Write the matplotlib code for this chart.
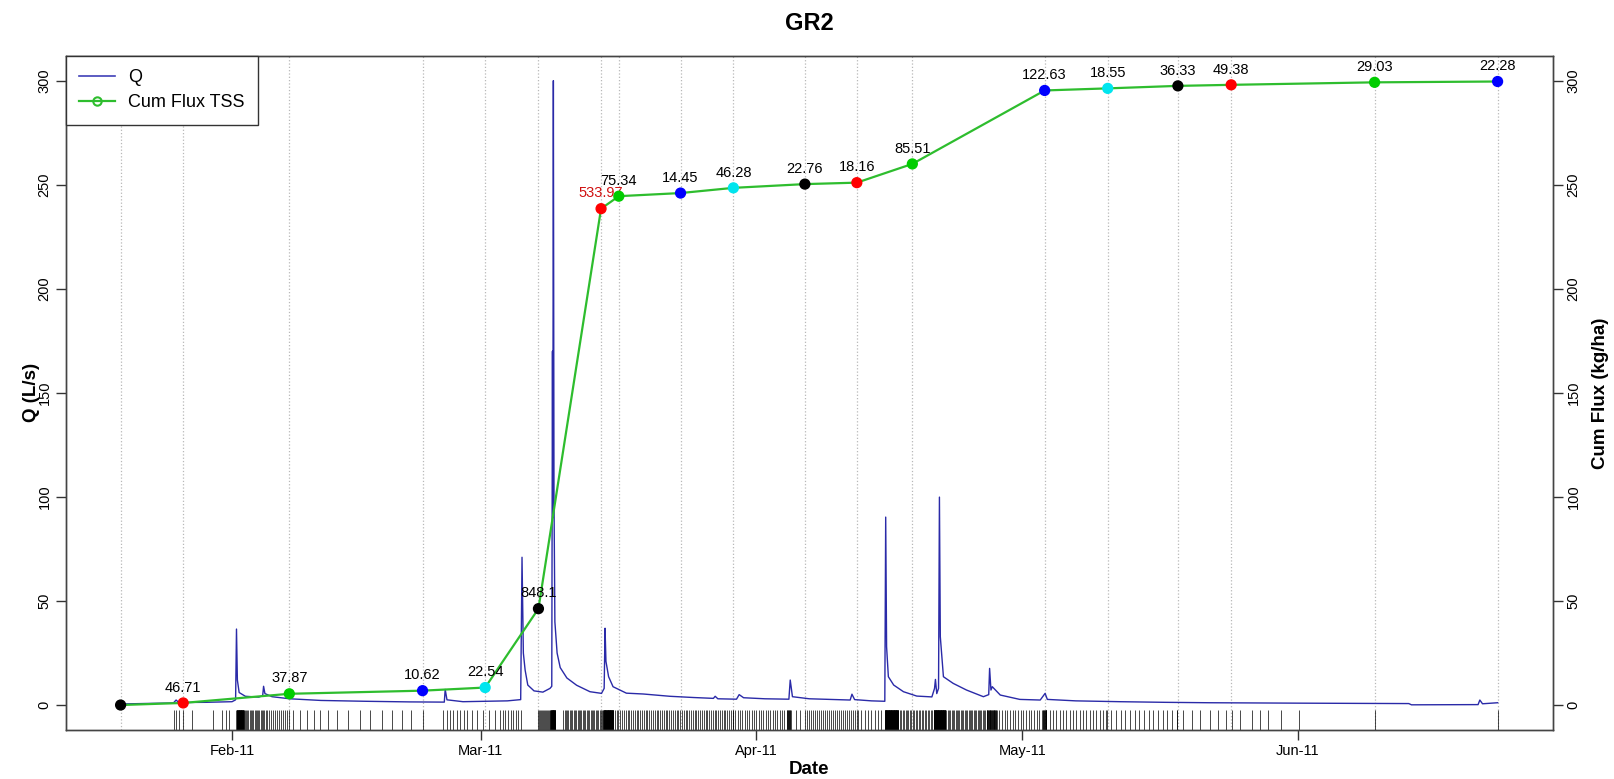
import numpy as np
import pandas as pd
import matplotlib
matplotlib.use('Agg')
import matplotlib.pyplot as plt
import matplotlib.dates as mdates
from matplotlib.lines import Line2D

plt.rcParams['font.family'] = ['Liberation Sans', 'DejaVu Sans']

base = pd.Timestamp('2011-02-01')

# sampling dates (days from 1 Feb 2011), cumulative TSS flux (kg/ha), TSS labels
samp_day = [-12.55, -5.5, 6.45, 21.45, 28.5, 34.5, 41.55, 43.55, 50.5, 56.45,
            64.5, 70.35, 76.6, 91.5, 98.6, 106.5, 112.5, 128.65, 142.5]
cum_flux = [0, 1.0, 5.4, 6.9, 8.4, 46.3, 238.5, 244.5, 246.0, 248.5,
            250.3, 251.0, 260.0, 295.3, 296.3, 297.5, 298.0, 299.2, 299.6]
tss_lab = ['', '46.71', '37.87', '10.62', '22.54', '848.1', '533.97', '75.34',
           '14.45', '46.28', '22.76', '18.16', '85.51', '122.63', '18.55',
           '36.33', '49.38', '29.03', '22.28']
palette = ['black', '#ff0000', '#00cd00', '#0000ff', '#00e5ee']

# discharge Q (L/s), days from 1 Feb 2011
q_day = [-12.55, -9, -6.6, -6.3, -6.0, -3, 0.0, 0.4, 0.5, 0.6, 0.8, 1.5, 3.0,
         3.45, 3.55, 3.7, 4.5, 6.5, 10, 15, 20, 23.9, 24.0, 24.2, 26, 28.5, 31,
         32.5, 32.65, 32.8, 33.0, 33.3, 34.0, 35.0, 35.8, 36.0, 36.08, 36.12,
         36.18, 36.25, 36.35, 36.6, 36.95, 37.7, 38.8, 40.3, 41.6, 41.9, 42.0,
         42.1, 42.4, 42.9, 44.4, 46.3, 49.3, 52, 54.2, 54.4, 54.7, 56.8, 57.1,
         57.6, 60, 62.7, 62.85, 63.1, 65, 69.6, 69.8, 70.1, 72, 73.5, 73.6,
         73.7, 73.9, 74.5, 75.6, 77.1, 78.8, 79.1, 79.2, 79.35, 79.55, 79.65,
         79.75, 80.1, 81.2, 82.7, 84.6, 85.2, 85.3, 85.45, 85.6, 86.5, 88.7,
         91.0, 91.55, 91.8, 95, 100, 105, 110, 115, 120, 126, 132.5, 132.8,
         140.3, 140.5, 140.8, 142.5]
q_val = [0.5, 0.8, 1.0, 2.4, 1.2, 1.3, 1.6, 2.5, 36.5, 12, 6, 4.2, 3.8,
         4.5, 9.0, 5.5, 4.0, 3.0, 2.2, 1.8, 1.5, 1.4, 7.5, 2.5, 1.6, 1.8, 2.0,
         2.6, 71, 25, 16.8, 9.6, 6.8, 6.2, 8, 9, 170, 90,
         300, 100, 40, 25, 18, 13, 9.5, 6.4, 5.6, 8, 36.9,
         21, 13.6, 8.8, 5.7, 5.3, 4.2, 3.6, 3.2, 4.2, 3.0, 2.8, 5.0,
         3.5, 3.0, 2.8, 12, 4.0, 3.0, 2.4, 5.2, 2.6, 2.0, 1.8, 90.3,
         28, 13.6, 9.6, 6.4, 4.3, 3.9, 8, 12.3, 5.5, 8, 99.9,
         32.8, 13.6, 10.4, 7.2, 4.0, 5, 17.6, 7.2, 8.8, 4.8, 2.7,
         2.4, 5.6, 2.7, 2.0, 1.6, 1.3, 1.1, 1.0, 0.9, 0.8, 0.7, 0.1,
         0.2, 2.4, 0.6, 1.1]

# rug: isolated marks and sampling bursts (start day, end day, step in hours)
rug_single = [-6.5, -6.3, -6.0, -5.55, -4.5, -2.2, -1.1, -0.7, -0.3,
              6.9, 7.66, 8.4, 9.2, 9.9, 10.8, 11.8, 13.1, 14.4, 15.5, 16.9,
              18.0, 19.1, 20.2, 21.5, 23.8, 24.2, 24.5, 24.9, 25.3, 25.7,
              26.1, 26.4, 27.0, 27.6, 28.3, 28.9, 29.6, 63.5, 64.0,
              106.4, 107.1, 108.1, 109.0, 110.1, 111.0, 111.9, 112.6, 113.5,
              114.8, 115.8, 116.7, 118.1, 120.1, 128.65, 142.5]
rug_burst = [(0.5, 1.3, 0.5), (1.3, 3.9, 3.3), (3.9, 6.5, 5.4),
             (30.2, 32.8, 7), (34.5, 35.9, 2.5), (35.9, 36.4, 0.5),
             (37.3, 41.8, 3.5), (41.8, 42.9, 0.5), (42.9, 56.4, 4.9),
             (56.4, 62.5, 6.3), (62.5, 63.0, 1.5), (64.5, 70.5, 5.4),
             (70.5, 73.5, 9), (73.5, 75.0, 0.5), (75.0, 79.0, 4),
             (79.0, 80.3, 0.5), (80.3, 85.0, 3.5), (85.0, 86.1, 1.2),
             (86.1, 91.3, 7.2), (91.3, 91.7, 1.2), (91.7, 98.5, 9),
             (98.5, 106.4, 12.6)]


def to_dates(days):
    return base + pd.to_timedelta(np.asarray(days, dtype=float), unit='D')


rug_days = list(rug_single)
for s, e, h in rug_burst:
    rug_days += list(np.arange(s, e, h / 24.0))

samp_dates = to_dates(samp_day)
q_dates = to_dates(q_day)
rug_dates = to_dates(rug_days)

green = '#2ebd2e'
qcol = '#2a2aa8'

fig = plt.figure(figsize=(16.14, 7.79), dpi=100)
ax = fig.add_axes([0.0406, 0.0629, 0.962 - 0.0406, 0.9285 - 0.0629])

for d in samp_dates:
    ax.axvline(d, color='#b8b8b8', ls=':', lw=0.9, zorder=0)

ax.plot(q_dates, q_val, color=qcol, lw=1.0, zorder=2)
ax.vlines(rug_dates, 0, 0.03, transform=ax.get_xaxis_transform(),
          color='black', lw=0.5, zorder=1)

ax.set_xlim(to_dates([-18.75])[0], to_dates([148.7])[0])
ax.set_ylim(-12, 312)
ax.set_yticks(range(0, 301, 50))
ax.xaxis.set_major_locator(mdates.MonthLocator())
ax.xaxis.set_major_formatter(mdates.DateFormatter('%b-%y'))

ax2 = ax.twinx()
ax2.plot(samp_dates, cum_flux, color=green, lw=1.6, zorder=3)
ax2.scatter(samp_dates, cum_flux, s=50, zorder=4,
            c=[palette[i % 5] for i in range(len(cum_flux))])
for d, v, lab in zip(samp_dates, cum_flux, tss_lab):
    if lab:
        ax2.annotate(lab, (d, v), xytext=(0, 6), textcoords='offset points',
                     ha='center', va='bottom', fontsize=10.5,
                     color='#d01010' if lab == '533.97' else 'black')
ax2.set_ylim(-12, 312)
ax2.set_yticks(range(0, 301, 50))

for a in (ax, ax2):
    a.tick_params(direction='out', length=7, width=1, labelsize=10.5, pad=3,
                  color='#333333')
    for sp in a.spines.values():
        sp.set_color('#444444')
        sp.set_linewidth(1.0)
for lbl in ax.get_yticklabels() + ax2.get_yticklabels():
    lbl.set_rotation(90)
    lbl.set_va('center')

ax.set_xlabel('Date', fontsize=13.5, fontweight='bold')
ax.set_ylabel('Q (L/s)', fontsize=13.5, fontweight='bold')
ax2.set_ylabel('Cum Flux (kg/ha)', fontsize=13.5, fontweight='bold')
ax.xaxis.label.set_va('center')
ax.yaxis.label.set_va('center')
ax2.yaxis.label.set_va('center')
ax.xaxis.set_label_coords(0.5, -0.058)
ax.yaxis.set_label_coords(-0.0232, 0.5)
ax2.yaxis.set_label_coords(1.032, 0.5)

handles = [Line2D([], [], color='#4040b8', lw=1.2),
           Line2D([], [], color=green, lw=1.6, marker='o', mfc='none',
                  mec=green, ms=6, mew=1.5)]
leg = ax2.legend(handles, ['Q', 'Cum Flux TSS'], loc='upper left',
                 bbox_to_anchor=(0, 1), borderaxespad=0, fontsize=13,
                 fancybox=False, framealpha=1, handlelength=2.0,
                 handletextpad=0.7, labelspacing=0.45, borderpad=0.75)
leg.get_frame().set_edgecolor('#333333')
leg.get_frame().set_linewidth(1.0)

fig.text(809 / 1614, 1 - 23 / 779, 'GR2', ha='center', va='center',
         fontsize=17, fontweight='bold')

fig.savefig('out.png', dpi=100)
